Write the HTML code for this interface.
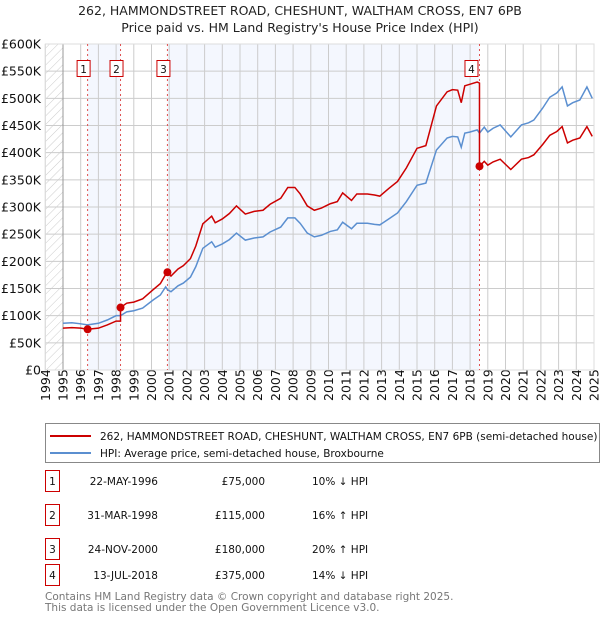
<!DOCTYPE html>
<html><head><meta charset="utf-8"><style>
body{margin:0;background:#fff;font-family:"Liberation Sans","DejaVu Sans",sans-serif;}
svg text{font-family:"DejaVu Sans","Liberation Sans",sans-serif;}
</style></head><body>
<svg id="chart" width="600" height="620" xmlns="http://www.w3.org/2000/svg">
<defs><pattern id="hatch" width="6" height="6" patternUnits="userSpaceOnUse" patternTransform="rotate(45)"><line x1="0" y1="0" x2="0" y2="6" stroke="#ccc" stroke-width="1"/></pattern></defs>
<text x="300" y="15" text-anchor="middle" font-size="12.5" fill="#222">262, HAMMONDSTREET ROAD, CHESHUNT, WALTHAM CROSS, EN7 6PB</text>
<text x="300" y="32" text-anchor="middle" font-size="12.5" fill="#222">Price paid vs. HM Land Registry's House Price Index (HPI)</text>
<g id="plot"></g>
<g>
<rect x="45.5" y="423.5" width="554" height="39" fill="#fff" stroke="#888"/>
<line x1="50" y1="436" x2="91" y2="436" stroke="#cc0000" stroke-width="2"/>
<text x="100" y="440" font-size="10.5" fill="#111">262, HAMMONDSTREET ROAD, CHESHUNT, WALTHAM CROSS, EN7 6PB (semi-detached house)</text>
<line x1="50" y1="453" x2="91" y2="453" stroke="#5b8fd0" stroke-width="2"/>
<text x="100" y="457" font-size="10.5" fill="#111">HPI: Average price, semi-detached house, Broxbourne</text>
</g>
<g id="table" font-size="10.5" fill="#111"></g>
<text x="45" y="600" font-size="10.5" fill="#777">Contains HM Land Registry data © Crown copyright and database right 2025.</text>
<text x="45" y="611" font-size="10.5" fill="#777">This data is licensed under the Open Government Licence v3.0.</text>
</svg>
<script>
const hpiDates=[1995.0,1995.5,1996.0,1996.39,1997.0,1997.5,1998.0,1998.25,1998.6,1999.0,1999.5,2000.1,2000.5,2000.8,2000.9,2001.1,2001.5,2001.8,2002.2,2002.5,2002.9,2003.4,2003.6,2004.0,2004.4,2004.8,2005.3,2005.8,2006.3,2006.7,2007.3,2007.7,2008.1,2008.4,2008.8,2009.2,2009.6,2010.1,2010.5,2010.8,2011.3,2011.6,2012.2,2012.6,2012.9,2013.4,2013.9,2014.4,2015.0,2015.5,2016.1,2016.7,2017.0,2017.3,2017.5,2017.7,2018.0,2018.4,2018.53,2018.8,2019.0,2019.3,2019.7,2020.3,2020.9,2021.3,2021.6,2022.1,2022.5,2022.9,2023.2,2023.5,2023.8,2024.2,2024.6,2024.9];
const hpiValues=[86,87,85,83,86,92,100,100,107,109,114,129,138,153,148,144,155,160,171,190,224,236,226,232,240,252,239,243,245,254,263,280,280,270,252,245,248,255,258,272,260,270,270,268,267,278,289,310,340,344,405,427,430,429,410,436,438,442,436,447,438,445,451,429,451,455,460,482,502,510,521,486,492,497,521,500];
const priceDates=[1995.0,1995.5,1996.0,1996.39,1997.0,1997.5,1998.0,1998.25,1998.25,1998.6,1999.0,1999.5,2000.1,2000.5,2000.8,2000.9,2001.1,2001.5,2001.8,2002.2,2002.5,2002.9,2003.4,2003.6,2004.0,2004.4,2004.8,2005.3,2005.8,2006.3,2006.7,2007.3,2007.7,2008.1,2008.4,2008.8,2009.2,2009.6,2010.1,2010.5,2010.8,2011.3,2011.6,2012.2,2012.6,2012.9,2013.4,2013.9,2014.4,2015.0,2015.5,2016.1,2016.7,2017.0,2017.3,2017.5,2017.7,2018.0,2018.4,2018.53,2018.53,2018.8,2019.0,2019.3,2019.7,2020.3,2020.9,2021.3,2021.6,2022.1,2022.5,2022.9,2023.2,2023.5,2023.8,2024.2,2024.6,2024.9];
const priceValues=[77,78,77,75,77,83,90,90,115,123,125,131,148,159,176,180,173,186,192,205,228,269,283,271,278,288,302,287,292,294,305,316,336,336,324,302,294,298,306,310,326,312,324,324,322,320,334,347,372,408,413,486,512,516,515,492,523,526,530,528,375,384,377,383,388,369,388,391,396,415,432,439,448,418,423,427,448,430];
const saleDates=[1996.39,1998.25,2000.9,2018.53];
const saleValues=[75,115,180,375];
const saleLabels=["1","2","3","4"];
const saleDateText=["22-MAY-1996","31-MAR-1998","24-NOV-2000","13-JUL-2018"];
const salePriceText=["£75,000","£115,000","£180,000","£375,000"];
const saleHpiText=["10% ↓ HPI","16% ↑ HPI","20% ↑ HPI","14% ↓ HPI"];
const yTicks=[0,50,100,150,200,250,300,350,400,450,500,550,600];
const yTickLabels=["£0","£50K","£100K","£150K","£200K","£250K","£300K","£350K","£400K","£450K","£500K","£550K","£600K"];
const xYears=[1994,1995,1996,1997,1998,1999,2000,2001,2002,2003,2004,2005,2006,2007,2008,2009,2010,2011,2012,2013,2014,2015,2016,2017,2018,2019,2020,2021,2022,2023,2024,2025];

const NS="http://www.w3.org/2000/svg";
const L=45.3,R=594,T=44,B=370;
function xs(y){return L+(y-1994)*(R-L)/31;}
function ys(v){return B-v*(B-T)/600;}
const g=document.getElementById('plot');
function mk(t,a,p){const e=document.createElementNS(NS,t);for(const k in a)e.setAttribute(k,a[k]);(p||g).appendChild(e);return e;}
let e;
e=mk('rect',{x:L,y:T,width:R-L,height:B-T,fill:'#fff'});


e=mk('rect',{x:L,y:T,width:xs(1995)-L,height:B-T,fill:'url(#hatch)'});


e=mk('rect',{x:xs(saleDates[0]),y:T,width:xs(saleDates[1])-xs(saleDates[0]),height:B-T,fill:'#f4f7fe'});


e=mk('rect',{x:xs(saleDates[2]),y:T,width:xs(saleDates[3])-xs(saleDates[2]),height:B-T,fill:'#f4f7fe'});


yTicks.forEach((v,i)=>{
 e=mk('line',{x1:L,x2:R,y1:ys(v),y2:ys(v),stroke:'#ccc','stroke-width':1});
 
 
 e=mk('text',{x:41,y:ys(v)+4.5,'text-anchor':'end','font-size':'12.5',fill:'#111'});
 e.textContent=yTickLabels[i];
 
 
});
xYears.forEach(yr=>{
 e=mk('line',{x1:xs(yr),x2:xs(yr),y1:T,y2:B,stroke:'#ccc','stroke-width':1});
 
 
 e=mk('text',{x:0,y:0,transform:`translate(${xs(yr)+4.5},401) rotate(-90)`,'font-size':'12.5',fill:'#111'});
 e.textContent=yr;
 
 
});
e=mk('line',{x1:xs(1995),x2:xs(1995),y1:T,y2:B,stroke:'#999'});


e=mk('line',{x1:R,x2:R,y1:T,y2:B,stroke:'#999'});


e=mk('rect',{x:L,y:T,width:R-L,height:B-T,fill:'none',stroke:'#ddd'});


saleDates.forEach((d,i)=>{
 e=mk('line',{x1:xs(d),x2:xs(d),y1:T,y2:B,stroke:'#e05050','stroke-width':1,'stroke-dasharray':'2,3'});
 
 
});
e=mk('polyline',{points:hpiDates.map((d,i)=>xs(d)+','+ys(hpiValues[i])).join(' '),fill:'none',stroke:'#5b8fd0','stroke-width':1.5});


e=mk('polyline',{points:priceDates.map((d,i)=>xs(d)+','+ys(priceValues[i])).join(' '),fill:'none',stroke:'#cc0000','stroke-width':1.5});


saleDates.forEach((d,i)=>{
 e=mk('circle',{cx:xs(d),cy:ys(saleValues[i]),r:4,fill:'#cc0000'});
 
 
 const bx=xs(d)-(i===3?8:4)-7;
 e=mk('rect',{x:bx+0.5,y:60.5,width:13,height:16,fill:'#fff',stroke:'#cc0000'});
 
 
 e=mk('text',{x:bx+7,y:73,'text-anchor':'middle','font-size':'10.5',fill:'#111'});
 e.textContent=saleLabels[i];
 
 
});
const tb=document.getElementById('table');
const rowY=[481,515,549,575];
saleLabels.forEach((s,i)=>{
 const y=rowY[i];
 e=mk('rect',{x:45.5,y:y-10.5,width:14,height:21,fill:'#fff',stroke:'#cc0000'},tb);
 
 
 e=mk('text',{x:52.5,y:y+4,'text-anchor':'middle'},tb);e.textContent=s;
 
 
 e=mk('text',{x:158,y:y+4,'text-anchor':'end'},tb);e.textContent=saleDateText[i];
 
 
 e=mk('text',{x:265,y:y+4,'text-anchor':'end'},tb);e.textContent=salePriceText[i];
 
 
 e=mk('text',{x:312,y:y+4},tb);e.textContent=saleHpiText[i];
 
 
});
</script>
</body></html>
